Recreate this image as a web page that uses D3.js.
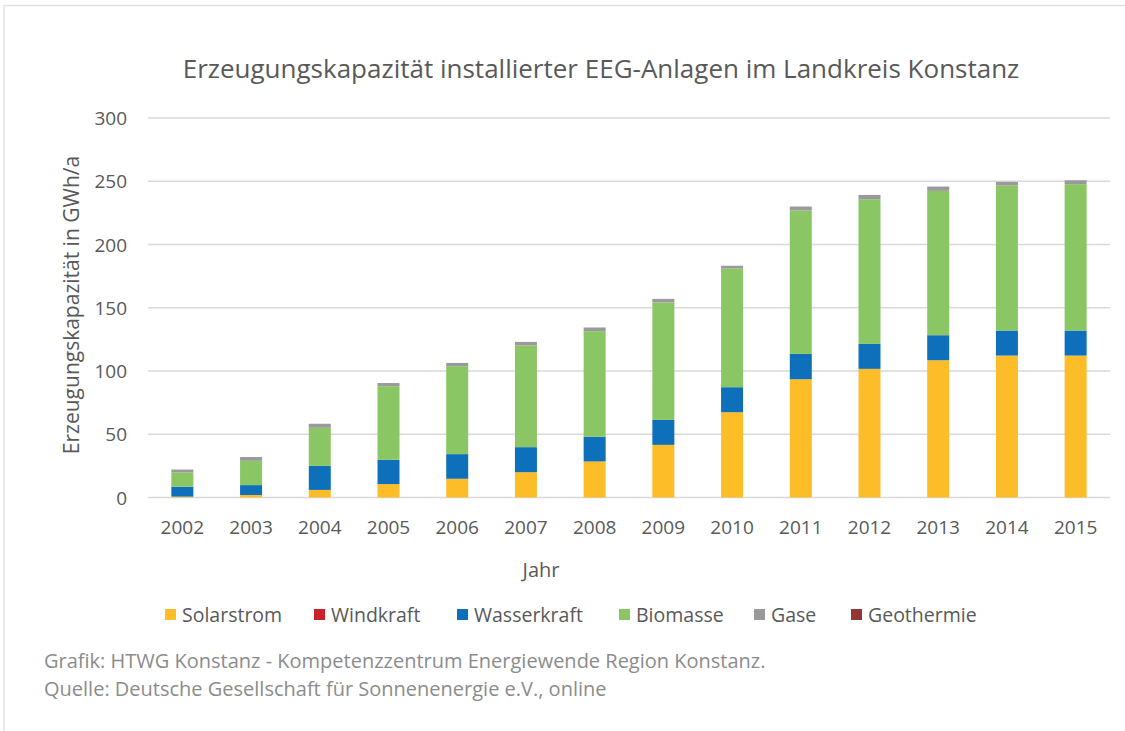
<!DOCTYPE html>
<html>
<head>
<meta charset="utf-8">
<script src="https://cdn.jsdelivr.net/npm/d3@7"></script>
<style>
  body { margin: 0; background: #fff; }
  text { font-family: "Open Sans", Lato, sans-serif; }
</style>
</head>
<body>
<div id="chart"></div>
<script>
const years = ["2002","2003","2004","2005","2006","2007","2008","2009","2010","2011","2012","2013","2014","2015"];
const solarstrom  = [0.7, 2, 6, 10.6, 14.8, 20, 28.5, 41.6, 67.4, 93.5, 101.7, 108.5, 112.2, 112.2];
const windkraft   = [0, 0, 0, 0, 0, 0, 0, 0, 0, 0, 0, 0, 0, 0];
const wasserkraft = [7.8, 7.8, 19, 19.2, 19.5, 19.8, 19.5, 19.7, 19.8, 20, 19.7, 19.8, 19.8, 19.8];
const biomasse    = [11.3, 19.2, 30.1, 58.2, 69.5, 80.4, 83.5, 92.9, 93.8, 113.4, 114.4, 114.1, 114.6, 115.7];
const gase        = [2.3, 3, 3.2, 2.5, 2.6, 2.8, 2.9, 2.8, 2.2, 3.1, 3.4, 3.4, 2.9, 3.1];
const geothermie  = [0, 0, 0, 0, 0, 0, 0, 0, 0, 0, 0, 0, 0, 0];
const yTicks = [0, 50, 100, 150, 200, 250, 300];

const keys = ["Solarstrom", "Windkraft", "Wasserkraft", "Biomasse", "Gase", "Geothermie"];
const series = [solarstrom, windkraft, wasserkraft, biomasse, gase, geothermie];
const colors = ["#fdbd28", "#c9222a", "#0e70ba", "#8bc664", "#9a9a9a", "#943634"];

const table = years.map((y, i) => {
  const row = { year: y };
  keys.forEach((k, j) => row[k] = series[j][i]);
  return row;
});

const width = 1125, height = 731;
const svg = d3.select("#chart").append("svg")
  .attr("width", width).attr("height", height);

// frame lines (top and left)
svg.append("line").attr("x1", 3.5).attr("x2", width).attr("y1", 5.5).attr("y2", 5.5)
  .attr("stroke", "#e3e3e3").attr("stroke-width", 1.5);
svg.append("line").attr("x1", 4).attr("x2", 4).attr("y1", 5.5).attr("y2", height)
  .attr("stroke", "#e3e3e3").attr("stroke-width", 1.5);

const x = d3.scaleBand().domain(years).range([148, 1110]).padding(0);
const y = d3.scaleLinear().domain([0, 300]).range([497.5, 118]);
const barW = 22;

// gridlines
svg.append("g").selectAll("line")
  .data(yTicks)
  .enter().append("line")
  .attr("x1", 148).attr("x2", 1110)
  .attr("y1", d => y(d)).attr("y2", d => y(d))
  .attr("stroke", "#d9d9d9").attr("stroke-width", 1.5);

// y tick labels
svg.append("g").selectAll("text")
  .data(yTicks)
  .enter().append("text")
  .attr("x", 127).attr("y", d => y(d) + 7)
  .attr("text-anchor", "end")
  .attr("font-size", "19px").attr("fill", "#595959")
  .text(d => d);

// stacked bars
const stacked = d3.stack().keys(keys)(table);
svg.append("g").selectAll("g")
  .data(stacked)
  .enter().append("g")
  .attr("fill", (d, i) => colors[i])
  .selectAll("rect")
  .data(d => d)
  .enter().append("rect")
  .attr("x", d => x(d.data.year) + x.bandwidth() / 2 - barW / 2)
  .attr("width", barW)
  .attr("y", d => y(d[1]))
  .attr("height", d => y(d[0]) - y(d[1]));

// x labels
svg.append("g").selectAll("text")
  .data(years)
  .enter().append("text")
  .attr("x", d => x(d) + x.bandwidth() / 2)
  .attr("y", 534)
  .attr("text-anchor", "middle")
  .attr("font-size", "19px").attr("fill", "#595959")
  .text(d => d);

// title
svg.append("text")
  .attr("x", 601).attr("y", 78)
  .attr("text-anchor", "middle")
  .attr("font-size", "26px").attr("fill", "#595959")
  .text("Erzeugungskapazität installierter EEG-Anlagen im Landkreis Konstanz");

// axis titles
svg.append("text")
  .attr("x", 541).attr("y", 577)
  .attr("text-anchor", "middle")
  .attr("font-size", "20px").attr("fill", "#595959")
  .text("Jahr");

svg.append("text")
  .attr("transform", "translate(79,305) rotate(-90)")
  .attr("text-anchor", "middle")
  .attr("font-size", "21px").attr("fill", "#595959")
  .text("Erzeugungskapazität in GWh/a");

// legend
const legendX = [165, 314, 457, 619, 754, 851];
const legend = svg.append("g").selectAll("g")
  .data(keys)
  .enter().append("g")
  .attr("transform", (d, i) => `translate(${legendX[i]},615)`);
legend.append("rect")
  .attr("x", 0).attr("y", -6).attr("width", 11).attr("height", 11)
  .attr("fill", (d, i) => colors[i]);
legend.append("text")
  .attr("x", 17).attr("y", 7)
  .attr("font-size", "19.5px").attr("fill", "#595959")
  .text(d => d);

// footnote
svg.append("text")
  .attr("x", 44).attr("y", 668)
  .attr("font-size", "20px").attr("fill", "#8c8c8c")
  .text("Grafik: HTWG Konstanz - Kompetenzzentrum Energiewende Region Konstanz.");
svg.append("text")
  .attr("x", 44).attr("y", 696)
  .attr("font-size", "20px").attr("fill", "#8c8c8c")
  .text("Quelle: Deutsche Gesellschaft für Sonnenenergie e.V., online");
</script>
</body>
</html>
